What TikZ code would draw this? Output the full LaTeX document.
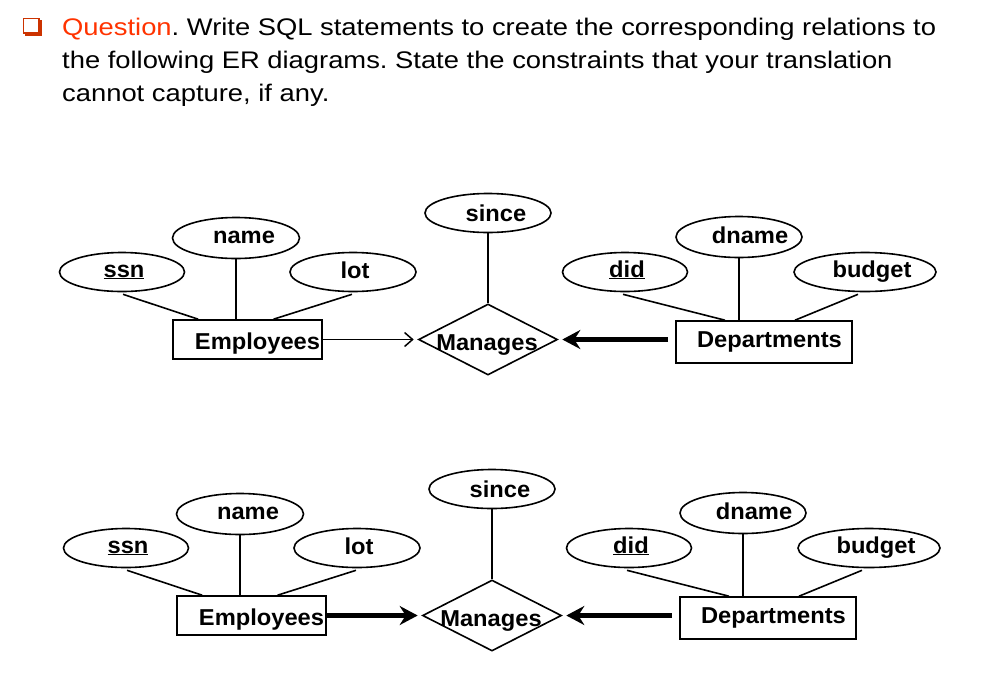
\documentclass[tikz,border=0pt]{standalone}
\usepackage{fontspec}
\setmainfont{Liberation Sans}
\newfontfamily\titlefont[FakeStretch=1.14]{Liberation Sans}
\newfontfamily\lblfont[FakeStretch=1.03]{Liberation Sans}
\usetikzlibrary{shapes.geometric,arrows.meta}
\definecolor{qred}{HTML}{FF3300}
\definecolor{bred}{HTML}{CC3300}
\frenchspacing
\tikzset{
 attr/.style={draw, ellipse, line width=1.6pt, minimum height=39pt, inner sep=0pt},
 lbl/.style={font=\lblfont\fontsize{23}{23}\selectfont\bfseries, anchor=base, inner sep=0pt},
 ent/.style={draw, rectangle, line width=1.6pt, inner sep=0pt},
 rel/.style={draw, diamond, line width=1.6pt, inner sep=0pt, minimum width=139pt, minimum height=71pt},
 link/.style={line width=1.6pt},
 thinarrow/.style={line width=1.5pt, -{Straight Barb[length=8pt,width=14pt]}},
 thickarrow/.style={line width=5.5pt, -{Stealth[length=18pt,width=19pt,inset=6pt]}},
 title/.style={font=\titlefont\fontsize{24}{24}\selectfont, anchor=base west, inner sep=0pt},
}
\newcommand\drawER[3]{%
\begin{scope}[shift={#2}]
 \node[attr, minimum width=125pt] (ssn#1) at (122,272) {};
 \node[lbl] (ssnt#1) at (124,277) {\underline{ssn}};
 \node[attr, minimum width=127pt, minimum height=41pt] (name#1) at (236,238) {};
 \node[lbl] (namet#1) at (244,243) {name};
 \node[attr, minimum width=126pt] (lot#1) at (353,272) {};
 \node[lbl] (lott#1) at (355,278) {lot};
 \node[attr, minimum width=126pt] (since#1) at (488,213) {};
 \node[lbl] (sincet#1) at (496,221) {since};
 \node[attr, minimum width=125pt] (did#1) at (625,272) {};
 \node[lbl] (didt#1) at (627,277) {\underline{did}};
 \node[attr, minimum width=126pt, minimum height=41pt] (dname#1) at (739,237) {};
 \node[lbl] (dnamet#1) at (750,243) {dname};
 \node[attr, minimum width=142pt] (budget#1) at (865,272) {};
 \node[lbl] (budgett#1) at (872,277) {budget};
 \node[ent, minimum width=149pt, minimum height=39pt] (emp#1) at (247.5,339.5) {};
 \node[lbl] (empt#1) at (257.5,349) {Employees};
 \node[ent, minimum width=176pt, minimum height=42pt] (dept#1) at (764,342) {};
 \node[lbl] (deptt#1) at (769.5,347) {Departments};
 \node[rel] (man#1) at (488,339.5) {};
 \node[lbl] (mant#1) at (487,350) {Manages};
 \draw[link] ([xshift=1pt,yshift=-2pt]ssn#1.south) -- ([xshift=26pt]emp#1.north west);
 \draw[link] (name#1.south) -- (name#1.south |- emp#1.north);
 \draw[link] ([xshift=-1pt,yshift=-2pt]lot#1.south) -- ([xshift=26pt]emp#1.north);
 \draw[link] (since#1.south) -- (man#1.north);
 \draw[link] ([xshift=-2pt,yshift=-2pt]did#1.south) -- ([xshift=-39pt]dept#1.north);
 \draw[link] (dname#1.south) -- (dname#1.south |- dept#1.north);
 \draw[link] ([xshift=-7pt,yshift=-2pt]budget#1.south) -- ([xshift=31pt]dept#1.north);
 \draw[#3] (emp#1.east |- man#1.west) -- ([xshift=-4pt]man#1.west);
 \draw[thickarrow, shorten <=7pt] (dept#1.west |- man#1.east) -- ([xshift=4pt]man#1.east);
\end{scope}}
\begin{document}
\begin{tikzpicture}[x=1pt,y=-1pt]
\useasboundingbox (0,0) rectangle (987,678);
% bullet
\fill[bred] (25,20) rectangle (42,36);
\draw[bred, line width=1.6pt, fill=white] (23.5,18.5) rectangle (39,33);
\node[title] (t1) at (62,35) {\textcolor{qred}{Question}. Write SQL statements to create the corresponding relations to};
\node[title] (t2) at (62,68) {the following ER diagrams. State the constraints that your translation};
\node[title] (t3) at (62,101) {cannot capture, if any.};
\drawER{a}{(0,0)}{thinarrow}
\drawER{b}{(4,276)}{thickarrow}
\end{tikzpicture}
\end{document}
